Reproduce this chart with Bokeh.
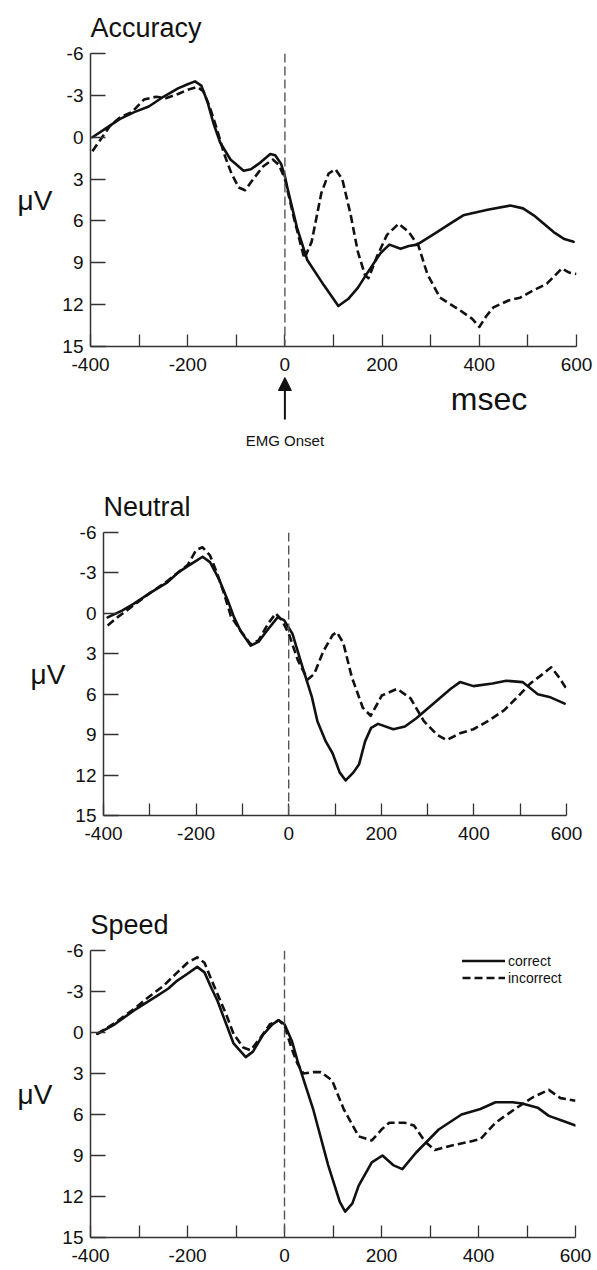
from bokeh.plotting import figure
from bokeh.models import Range1d, FixedTicker, Arrow, NormalHead, Span
from bokeh.core.properties import value
from bokeh.embed import file_html
from bokeh.resources import INLINE

# ---------------- data ----------------
x_ticks = [-400, -200, 0, 200, 400, 600]
x_minor = [-300, -100, 100, 300, 500]
y_ticks = [-6, -3, 0, 3, 6, 9, 12, 15]
y_labels = ["-6", "-3", "0", "3", "6", "9", "12", "15"]
emg_onset = 0
x_unit_label = "msec"
onset_label = "EMG Onset"

acc_correct_t = [-396, -370, -340, -310, -280, -250, -220, -200, -185, -172, -159, -147, -133, -112, -85, -70, -50, -30, -20, -8, 0, 5, 25, 46, 80, 110, 130, 150, 172, 197, 215, 238, 255, 272, 313, 340, 367, 417, 464, 490, 512, 553, 575, 594]
acc_correct_v = [0.0, -0.6, -1.3, -1.8, -2.2, -2.9, -3.5, -3.8, -4.0, -3.7, -2.5, -1.0, 0.4, 1.6, 2.4, 2.3, 1.8, 1.2, 1.3, 1.9, 2.8, 3.6, 6.5, 8.8, 10.6, 12.1, 11.6, 10.8, 9.6, 8.3, 7.7, 8.0, 7.8, 7.7, 6.8, 6.2, 5.6, 5.2, 4.9, 5.1, 5.6, 6.8, 7.3, 7.5]
acc_incorrect_t = [-396, -380, -360, -340, -315, -290, -265, -245, -220, -200, -180, -168, -155, -140, -125, -110, -95, -82, -65, -45, -25, -12, 0, 20, 40, 55, 75, 90, 104, 118, 135, 150, 165, 172, 190, 210, 234, 255, 275, 293, 319, 360, 385, 400, 415, 429, 460, 484, 510, 539, 570, 585, 600]
acc_incorrect_v = [1.0, 0.2, -0.8, -1.4, -1.8, -2.7, -2.9, -2.8, -3.1, -3.4, -3.6, -3.3, -2.2, -0.6, 1.2, 2.6, 3.6, 3.8, 3.0, 2.1, 1.6, 2.0, 3.0, 6.0, 8.7, 7.5, 4.0, 2.6, 2.3, 3.0, 5.5, 8.2, 9.9, 10.1, 8.5, 7.0, 6.2, 6.8, 7.8, 9.8, 11.5, 12.4, 13.0, 13.6, 12.8, 12.2, 11.7, 11.5, 11.0, 10.5, 9.4, 9.7, 9.8]

neu_correct_t = [-391, -360, -335, -300, -262, -240, -218, -200, -186, -170, -150, -132, -118, -104, -82, -65, -45, -24, -10, 8, 30, 50, 62, 80, 95, 110, 123, 140, 152, 165, 178, 193, 226, 251, 275, 316, 350, 370, 399, 440, 470, 505, 520, 538, 563, 596]
neu_correct_v = [0.3, -0.2, -0.7, -1.5, -2.3, -3.0, -3.5, -3.9, -4.2, -3.8, -2.5, -1.0, 0.3, 1.3, 2.4, 2.1, 1.2, 0.3, 0.5, 1.5, 4.0, 6.2, 8.0, 9.5, 10.4, 11.8, 12.4, 11.8, 11.2, 9.5, 8.5, 8.2, 8.6, 8.4, 7.8, 6.6, 5.6, 5.1, 5.4, 5.2, 5.0, 5.1, 5.5, 6.0, 6.2, 6.7]
neu_incorrect_t = [-391, -370, -335, -300, -262, -240, -218, -200, -186, -170, -155, -140, -125, -104, -82, -65, -45, -28, -15, 0, 20, 41, 55, 75, 95, 104, 118, 136, 160, 177, 190, 201, 234, 263, 292, 320, 341, 370, 399, 430, 465, 500, 522, 545, 567, 585, 600]
neu_incorrect_v = [0.9, 0.3, -0.6, -1.5, -2.4, -3.0, -3.6, -4.7, -4.9, -4.3, -3.0, -1.5, 0.2, 1.3, 2.3, 2.0, 0.8, 0.0, 0.5, 1.5, 3.5, 4.9, 4.5, 2.8, 1.6, 1.4, 2.2, 4.7, 7.0, 7.6, 6.8, 6.1, 5.6, 6.3, 8.0, 9.0, 9.4, 8.9, 8.6, 8.0, 7.2, 6.0, 5.2, 4.6, 4.0, 4.8, 5.6]

spd_correct_t = [-386, -350, -311, -280, -262, -240, -221, -200, -180, -165, -150, -138, -120, -105, -80, -65, -45, -25, -12, 0, 15, 27, 59, 90, 114, 125, 140, 153, 180, 202, 224, 243, 271, 318, 365, 404, 435, 470, 490, 522, 545, 576, 600]
spd_correct_v = [0.1, -0.6, -1.6, -2.3, -2.7, -3.2, -3.8, -4.3, -4.8, -4.4, -3.2, -2.3, -0.6, 0.8, 1.8, 1.4, 0.2, -0.6, -0.9, -0.6, 0.6, 2.1, 5.6, 9.7, 12.4, 13.1, 12.5, 11.2, 9.5, 9.0, 9.7, 10.0, 8.8, 7.1, 6.0, 5.6, 5.1, 5.1, 5.2, 5.5, 6.1, 6.5, 6.8]
spd_incorrect_t = [-386, -350, -311, -280, -250, -221, -200, -180, -165, -150, -138, -120, -105, -85, -70, -50, -30, -12, 0, 15, 27, 39, 60, 75, 98, 122, 153, 180, 200, 216, 247, 267, 290, 310, 341, 380, 404, 435, 475, 514, 545, 569, 600]
spd_incorrect_v = [0.1, -0.7, -1.7, -2.6, -3.4, -4.4, -5.1, -5.5, -5.1, -3.8, -2.8, -1.3, 0.1, 1.1, 1.3, 0.4, -0.6, -0.9, -0.5, 1.2, 2.3, 3.0, 2.9, 2.9, 3.5, 5.6, 7.6, 7.9, 7.1, 6.6, 6.6, 6.8, 8.0, 8.6, 8.3, 8.0, 7.8, 6.6, 5.6, 4.7, 4.2, 4.8, 5.0]

FONT = "Liberation Sans"
INK = "#111111"


def make_panel(title, ct, cv, it, iv, height, left, right, top, bottom, legend=False):
    p = figure(width=597, height=height, x_range=Range1d(-400, 600), y_range=Range1d(15, -6),
               output_backend="svg", toolbar_location=None,
               min_border_left=left, min_border_right=right,
               min_border_top=top, min_border_bottom=bottom, title=title)
    p.outline_line_color = None
    p.xgrid.visible = False
    p.ygrid.visible = False
    p.title.text_font = FONT
    p.title.text_font_size = "27px"
    p.title.text_font_style = "normal"
    p.title.text_color = INK
    p.title.standoff = 21

    for ax in (p.xaxis[0], p.yaxis[0]):
        ax.axis_line_color = "#333333"
        ax.axis_line_width = 1.5
        ax.major_tick_line_color = "#333333"
        ax.minor_tick_line_color = "#333333"
        ax.major_tick_line_width = 1.3
        ax.minor_tick_line_width = 1.3
        ax.major_tick_out = 0
        ax.minor_tick_out = 0
        ax.major_label_text_font = FONT
        ax.major_label_text_font_size = "19px"
        ax.major_label_text_color = INK
    xa = p.xaxis[0]
    xa.ticker = FixedTicker(ticks=x_ticks, minor_ticks=x_minor)
    xa.major_tick_in = 12
    xa.minor_tick_in = 12
    xa.major_label_standoff = 11
    xa.major_label_overrides = {t: str(t) for t in x_ticks}
    ya = p.yaxis[0]
    ya.ticker = FixedTicker(ticks=y_ticks, minor_ticks=[])
    ya.major_tick_in = 15
    ya.major_label_standoff = 7
    ya.major_label_overrides = dict(zip(y_ticks, y_labels))
    ya.axis_label = "μV"
    ya.axis_label_orientation = "horizontal"
    ya.axis_label_text_font = FONT
    ya.axis_label_text_font_size = "28px"
    ya.axis_label_text_font_style = "normal"
    ya.axis_label_text_color = INK
    ya.axis_label_standoff = 7

    p.add_layout(Span(location=emg_onset, dimension="height", line_color="#555555",
                      line_width=1.4, line_dash="9 4"))

    kw_c = dict(line_color=INK, line_width=2.6, line_join="round", line_cap="round")
    kw_i = dict(line_color=INK, line_width=2.6, line_dash="8 4", line_join="round")
    if legend:
        p.line(ct, cv, legend_label="correct", **kw_c)
        p.line(it, iv, legend_label="incorrect", **kw_i)
        lg = p.legend[0]
        lg.location = (372, 251)
        lg.background_fill_alpha = 0
        lg.border_line_color = None
        lg.margin = 0
        lg.padding = 0
        lg.spacing = 0
        lg.glyph_width = 43
        lg.glyph_height = 17
        lg.label_height = 17
        lg.label_standoff = 3
        lg.label_text_font = FONT
        lg.label_text_font_size = "14px"
        lg.label_text_color = INK
    else:
        p.line(ct, cv, **kw_c)
        p.line(it, iv, **kw_i)
    return p


p1 = make_panel("Accuracy", acc_correct_t, acc_correct_v, acc_incorrect_t, acc_incorrect_v,
                376, 90, 21, 50, 30)

# strip below the first panel: time unit and the EMG onset marker
ann = figure(width=597, height=74, x_range=p1.x_range, y_range=Range1d(74, 0),
             output_backend="svg", toolbar_location=None, x_axis_type=None, y_axis_type=None,
             min_border_left=90, min_border_right=21, min_border_top=0, min_border_bottom=0)
ann.outline_line_color = None
ann.xgrid.visible = False
ann.ygrid.visible = False
ann.text(x=[420], y=[22], text=[x_unit_label], text_font=value(FONT), text_font_size="32px",
         text_align="center", text_baseline="middle", text_color=INK)
ann.text(x=[emg_onset], y=[64], text=[onset_label], text_font=value(FONT), text_font_size="15px",
         text_align="center", text_baseline="middle", text_color=INK)
ann.add_layout(Arrow(x_start=emg_onset, y_start=43, x_end=emg_onset, y_end=1,
                     line_color=INK, line_width=2,
                     end=NormalHead(size=13, fill_color=INK, line_color=INK)))

p2 = make_panel("Neutral", neu_correct_t, neu_correct_v, neu_incorrect_t, neu_incorrect_v,
                400, 103, 31, 82, 35)
p3 = make_panel("Speed", spd_correct_t, spd_correct_v, spd_incorrect_t, spd_incorrect_v,
                420, 90, 22, 100, 33, legend=True)

open("out.html", "w").write(file_html([p1, ann, p2, p3], INLINE))
